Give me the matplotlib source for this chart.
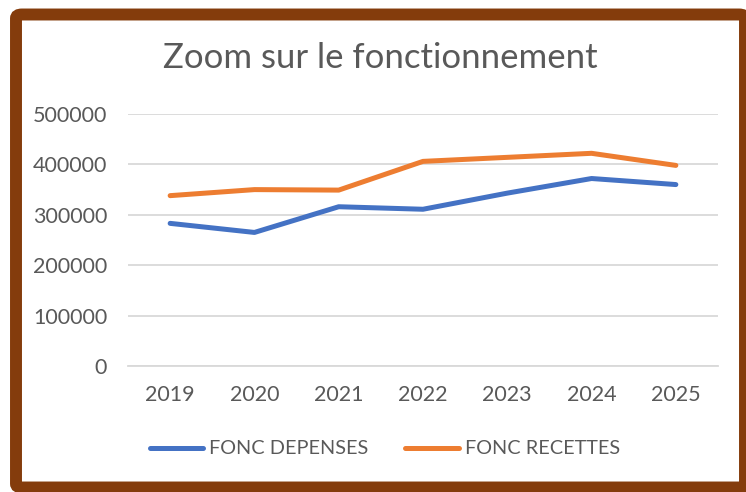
import matplotlib
matplotlib.use("Agg")
import matplotlib.pyplot as plt
from matplotlib.patches import FancyBboxPatch
from matplotlib.lines import Line2D

years = ["2019", "2020", "2021", "2022", "2023", "2024", "2025"]
depenses = [283000, 265000, 316000, 311000, 343000, 372000, 360000]
recettes = [338000, 350000, 349000, 406000, 414000, 422000, 398000]
yticks = [0, 100000, 200000, 300000, 400000, 500000]

BLUE = "#4472C4"
ORANGE = "#ED7D31"
GREY = "#595959"
BROWN = "#843C0C"

plt.rcParams["font.family"] = ["Lato", "DejaVu Sans"]

fig = plt.figure(figsize=(7.46, 4.92), dpi=100)
fig.patch.set_facecolor("white")

# brown frame around the whole chart
frame = FancyBboxPatch((16 / 746, 4.5 / 492), 729 / 746, 473 / 492,
                       boxstyle="round,pad=0,rounding_size=0.008",
                       transform=fig.transFigure, facecolor="none",
                       edgecolor=BROWN, linewidth=8.6, zorder=10)
fig.patches.append(frame)

ax = fig.add_axes([128 / 746, 1 - 366 / 492, 590 / 746, 252 / 492])
x = range(len(years))
ax.plot(x, depenses, color=BLUE, linewidth=3.6, solid_capstyle="round", zorder=3)
ax.plot(x, recettes, color=ORANGE, linewidth=3.6, solid_capstyle="round", zorder=3)

ax.set_xlim(-0.5, len(years) - 0.5)
ax.set_ylim(0, 500000)
ax.set_yticks(yticks)
ax.set_yticklabels([str(v) for v in yticks])
ax.set_xticks(list(x))
ax.set_xticklabels(years)
ax.grid(True, axis="y", color="#D9D9D9", linewidth=1.3, zorder=0)
ax.tick_params(axis="y", length=0, pad=15, labelsize=15.5, labelcolor=GREY)
ax.tick_params(axis="x", length=0, pad=14, labelsize=15.5, labelcolor=GREY)
for s in ax.spines.values():
    s.set_visible(False)
ax.spines["bottom"].set_visible(True)
ax.spines["bottom"].set_color("#D9D9D9")
ax.spines["bottom"].set_linewidth(1.3)

fig.text(380 / 746, 1 - 58 / 492, "Zoom sur le fonctionnement",
         ha="center", va="center", fontsize=25, color=GREY)

handles = [Line2D([], [], color=BLUE, linewidth=3.6, solid_capstyle="round"),
           Line2D([], [], color=ORANGE, linewidth=3.6, solid_capstyle="round")]
fig.legend(handles, ["FONC DEPENSES", "FONC RECETTES"],
           loc="center", bbox_to_anchor=(385 / 746, 1 - 449 / 492),
           ncol=2, frameon=False, fontsize=14.3, labelcolor=GREY,
           handlelength=2.7, handletextpad=0.3, columnspacing=1.85)

fig.savefig("out.png", dpi=100)
